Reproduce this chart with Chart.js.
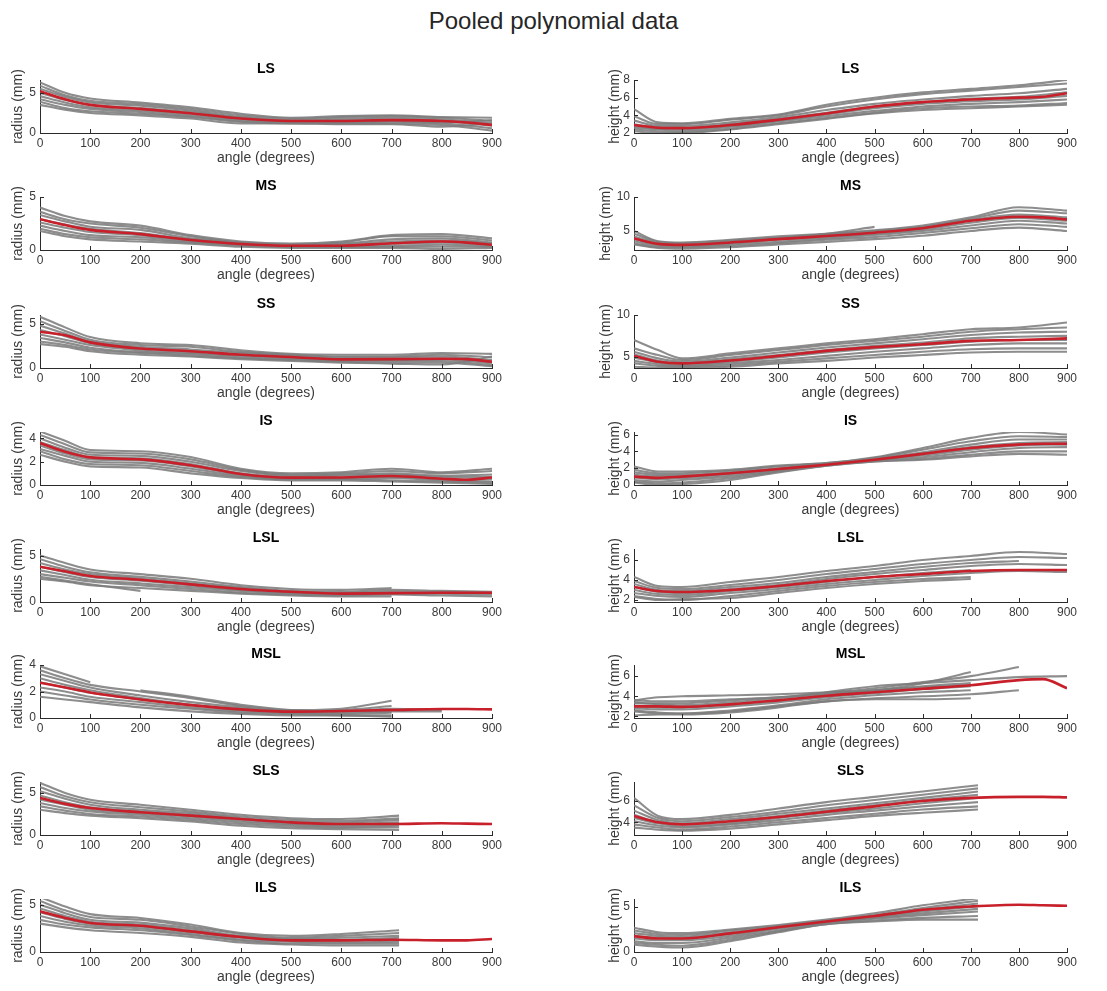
<!DOCTYPE html>
<html>
<head>
<meta charset="utf-8">
<script src="https://cdn.jsdelivr.net/npm/chart.js@4.4.1/dist/chart.umd.min.js"></script>
<style>
  html, body { margin: 0; padding: 0; background: #fff; width: 1107px; height: 991px; overflow: hidden; }
  #figTitle { position: absolute; left: 0; top: 7px; width: 1107px; text-align: center;
              font-family: "Liberation Sans", Arial, sans-serif; font-size: 24px; color: #262626; }
  canvas { position: absolute; }
</style>
</head>
<body>
<div id="figTitle">Pooled polynomial data</div>
<script>
// ---- shared sampling grids (degrees) ----
const angles = [0, 50, 100, 200, 300, 400, 500, 600, 700, 800, 900];
const meanAngles = [0, 50, 100, 200, 300, 400, 500, 600, 700, 800, 850, 900];
const anglesShort = [0, 50, 100, 200, 300, 400, 500, 600, 715];
const xTicks = [0, 100, 200, 300, 400, 500, 600, 700, 800, 900];

// ---- LS ----
const lsRadiusLimits = [0, 6.6];
const lsRadiusTicks = [0, 5];
const lsRadiusMean = [5.2, 4.2, 3.5, 3.0, 2.45, 1.8, 1.5, 1.5, 1.6, 1.5, 1.3, 1.0];
const lsRadiusCurves = [
  [6.3, 5.0, 4.3, 3.8, 3.2, 2.4, 1.9, 2.1, 2.2, 2.0, 1.9],
  [5.9, 4.7, 4.0, 3.6, 3.0, 2.2, 1.8, 2.0, 2.1, 1.9, 1.5],
  [5.5, 4.5, 3.8, 3.4, 2.8, 2.0, 1.6, 1.8, 1.9, 1.7, 1.2],
  [5.0, 4.1, 3.5, 3.1, 2.6, 1.9, 1.5, 1.6, 1.7, 1.5, 0.9],
  [4.6, 3.8, 3.2, 2.8, 2.3, 1.7, 1.4, 1.4, 1.5, 1.3, 1.6],
  [4.2, 3.5, 3.0, 2.6, 2.1, 1.5, 1.3, 1.3, 1.4, 1.2, 0.6],
  [3.9, 3.1, 2.7, 2.4, 2.0, 1.4, 1.2, 1.2, 1.2, 1.0, 0.3],
  [3.5, 2.9, 2.5, 2.2, 1.8, 1.2, 1.2, 1.1, 1.1, 0.8, 1.2]
];
const lsHeightLimits = [2, 8];
const lsHeightTicks = [2, 4, 6, 8];
const lsHeightMean = [2.9, 2.6, 2.55, 2.9, 3.5, 4.2, 5.0, 5.5, 5.8, 6.0, 6.1, 6.5];
const lsHeightCurves = [
  [4.7, 3.2, 3.1, 3.6, 4.1, 5.2, 6.0, 6.6, 7.0, 7.4, 8.0],
  [3.9, 3.0, 3.0, 3.5, 4.0, 5.0, 5.8, 6.4, 6.8, 7.2, 7.6],
  [3.4, 2.8, 2.8, 3.2, 3.8, 4.6, 5.3, 5.8, 6.2, 6.5, 7.0],
  [3.0, 2.6, 2.6, 3.0, 3.6, 4.3, 5.0, 5.5, 5.9, 6.1, 6.6],
  [2.8, 2.5, 2.5, 2.8, 3.4, 4.1, 4.8, 5.3, 5.6, 5.8, 6.2],
  [2.6, 2.4, 2.3, 2.7, 3.3, 3.9, 4.5, 5.0, 5.3, 5.5, 5.8],
  [2.4, 2.2, 2.1, 2.5, 3.1, 3.7, 4.3, 4.8, 5.0, 5.1, 5.4],
  [2.2, 2.0, 2.0, 2.4, 3.0, 3.6, 4.2, 4.6, 4.8, 5.0, 5.2]
];

// ---- MS ----
const msRadiusLimits = [0, 5];
const msRadiusTicks = [0, 5];
const msRadiusMean = [2.9, 2.35, 1.9, 1.5, 0.95, 0.57, 0.4, 0.4, 0.63, 0.8, 0.7, 0.5];
const msRadiusCurves = [
  [4.0, 3.2, 2.7, 2.3, 1.4, 0.8, 0.6, 0.8, 1.4, 1.5, 1.1],
  [3.6, 2.9, 2.5, 2.1, 1.3, 0.7, 0.5, 0.7, 1.3, 1.3, 0.9],
  [3.3, 2.7, 2.2, 1.9, 1.1, 0.7, 0.5, 0.6, 1.0, 1.1, 0.7],
  [2.9, 2.4, 2.0, 1.6, 1.0, 0.6, 0.4, 0.5, 0.8, 0.9, 0.6],
  [2.6, 2.1, 1.7, 1.4, 0.9, 0.5, 0.4, 0.4, 0.6, 0.7, 0.5],
  [2.3, 1.8, 1.4, 1.2, 0.8, 0.5, 0.3, 0.3, 0.4, 0.5, 0.4],
  [2.0, 1.5, 1.2, 1.0, 0.7, 0.4, 0.3, 0.3, 0.3, 0.3, 0.3],
  [1.8, 1.3, 1.0, 0.8, 0.6, 0.3, 0.2, 0.2, 0.2, 0.1, 0.2]
];
const msHeightLimits = [2.2, 10];
const msHeightTicks = [5, 10];
const msHeightMean = [3.9, 3.1, 2.95, 3.3, 3.8, 4.25, 4.75, 5.4, 6.5, 7.1, 7.0, 6.7];
const msHeightCurves = [
  [5.0, 3.5, 3.3, 3.7, 4.2, 4.6, 5.1, 5.8, 7.0, 8.5, 8.0],
  [4.6, 3.4, 3.2, 3.6, 4.0, 4.5, 5.0, 5.6, 6.8, 8.0, 7.6],
  [4.2, 3.2, 3.0, 3.4, 3.9, 4.3, 4.8, 5.5, 6.6, 7.4, 7.0],
  [3.8, 3.0, 2.9, 3.2, 3.7, 4.1, 4.6, 5.2, 6.2, 6.9, 6.5],
  [3.5, 2.8, 2.7, 3.0, 3.4, 3.9, 4.4, 5.0, 5.8, 6.5, 6.1],
  [3.2, 2.6, 2.6, 2.8, 3.2, 3.7, 4.1, 4.7, 5.4, 6.0, 5.6],
  [3.0, 2.5, 2.4, 2.6, 3.0, 3.4, 3.8, 4.3, 5.0, 5.5, 5.0],
  [null, null, null, 3.4, 3.9, 4.6, 5.6, null, null, null, null]
];

// ---- SS ----
const ssRadiusLimits = [0, 6.0];
const ssRadiusTicks = [0, 5];
const ssRadiusMean = [4.1, 3.7, 2.9, 2.2, 1.9, 1.5, 1.25, 0.98, 1.0, 1.05, 1.0, 0.7];
const ssRadiusCurves = [
  [5.8, 4.6, 3.5, 2.8, 2.6, 2.0, 1.6, 1.5, 1.5, 1.7, 1.6],
  [5.3, 4.2, 3.2, 2.6, 2.4, 1.8, 1.5, 1.3, 1.3, 1.5, 1.2],
  [4.8, 3.9, 3.0, 2.4, 2.1, 1.7, 1.4, 1.2, 1.2, 1.3, 0.9],
  [4.3, 3.6, 2.8, 2.2, 1.9, 1.5, 1.3, 1.0, 1.0, 1.1, 0.7],
  [3.8, 3.2, 2.6, 2.0, 1.7, 1.4, 1.1, 0.9, 0.9, 1.0, 0.5],
  [3.4, 2.9, 2.3, 1.8, 1.6, 1.2, 1.0, 0.8, 0.8, 0.8, 0.3],
  [3.0, 2.6, 2.1, 1.7, 1.4, 1.1, 0.9, 0.7, 0.6, 0.6, 0.2],
  [2.7, 2.4, 1.9, 1.5, 1.3, 1.0, 0.8, 0.6, 0.5, 0.4, 1.3]
];
const ssHeightLimits = [3.65, 10];
const ssHeightTicks = [5, 10];
const ssHeightMean = [5.1, 4.4, 4.2, 4.55, 5.1, 5.7, 6.15, 6.5, 6.9, 7.0, 7.1, 7.2];
const ssHeightCurves = [
  [7.0, 5.8, 4.8, 5.4, 6.0, 6.6, 7.1, 7.7, 8.3, 8.5, 9.1],
  [6.0, 5.2, 4.6, 5.2, 5.8, 6.4, 6.9, 7.4, 8.0, 8.3, 8.5],
  [5.6, 4.8, 4.4, 4.9, 5.5, 6.1, 6.6, 7.1, 7.6, 7.9, 8.0],
  [5.3, 4.5, 4.2, 4.7, 5.2, 5.8, 6.3, 6.7, 7.2, 7.4, 7.5],
  [4.9, 4.3, 4.0, 4.4, 4.9, 5.5, 6.0, 6.4, 6.8, 7.0, 7.0],
  [4.5, 4.1, 3.9, 4.2, 4.6, 5.1, 5.6, 6.0, 6.4, 6.6, 6.6],
  [4.2, 3.9, 3.8, 4.0, 4.4, 4.8, 5.2, 5.6, 5.9, 6.0, 6.0],
  [3.8, 3.7, 3.7, 3.8, 4.2, 4.5, 4.9, 5.2, 5.5, 5.6, 5.6]
];

// ---- IS ----
const isRadiusLimits = [0, 4.55];
const isRadiusTicks = [0, 2, 4];
const isRadiusMean = [3.6, 2.85, 2.37, 2.2, 1.7, 0.95, 0.63, 0.65, 0.77, 0.54, 0.45, 0.65];
const isRadiusCurves = [
  [4.6, 3.8, 3.0, 2.9, 2.4, 1.4, 1.0, 1.1, 1.4, 1.1, 1.4],
  [4.3, 3.5, 2.8, 2.7, 2.2, 1.3, 0.9, 1.0, 1.2, 1.0, 1.2],
  [4.0, 3.2, 2.6, 2.5, 2.0, 1.2, 0.8, 0.9, 1.0, 0.8, 0.9],
  [3.7, 3.0, 2.4, 2.3, 1.8, 1.0, 0.7, 0.8, 0.9, 0.7, 0.7],
  [3.4, 2.7, 2.2, 2.1, 1.6, 0.9, 0.6, 0.6, 0.7, 0.5, 0.5],
  [3.1, 2.5, 2.0, 1.9, 1.4, 0.8, 0.5, 0.5, 0.6, 0.4, 0.3],
  [2.9, 2.2, 1.8, 1.7, 1.2, 0.7, 0.5, 0.5, 0.4, 0.3, 0.2],
  [2.6, 2.0, 1.6, 1.5, 1.0, 0.6, 0.4, 0.4, 0.3, 0.2, 0.1]
];
const isHeightLimits = [0, 6.3];
const isHeightTicks = [0, 2, 4, 6];
const isHeightMean = [1.0, 0.85, 1.0, 1.4, 1.9, 2.4, 3.0, 3.7, 4.4, 4.8, 4.9, 4.9];
const isHeightCurves = [
  [2.2, 1.6, 1.6, 1.8, 2.3, 2.6, 3.3, 4.4, 5.6, 6.3, 6.0],
  [1.8, 1.4, 1.4, 1.7, 2.2, 2.6, 3.2, 4.2, 5.2, 5.8, 5.7],
  [1.5, 1.2, 1.2, 1.5, 2.0, 2.5, 3.1, 3.9, 4.8, 5.4, 5.4],
  [1.2, 1.0, 1.0, 1.4, 1.9, 2.5, 3.0, 3.7, 4.5, 5.0, 5.1],
  [0.9, 0.7, 0.8, 1.2, 1.8, 2.4, 3.0, 3.5, 4.2, 4.7, 4.8],
  [0.6, 0.4, 0.6, 1.0, 1.7, 2.4, 2.9, 3.3, 3.9, 4.4, 4.5],
  [0.4, 0.2, 0.3, 0.8, 1.6, 2.3, 2.8, 3.1, 3.6, 4.0, 4.0],
  [0.3, 0.0, 0.1, 0.6, 1.5, 2.3, 2.8, 3.0, 3.4, 3.7, 3.6]
];

// ---- LSL ----
const lslRadiusLimits = [0, 5.7];
const lslRadiusTicks = [0, 5];
const lslRadiusMean = [3.8, 3.3, 2.8, 2.4, 1.9, 1.4, 1.1, 0.9, 0.95, 1.0, 1.0, 1.0];
const lslRadiusCurves = [
  [5.0, 4.2, 3.5, 3.0, 2.5, 1.8, 1.4, 1.3, 1.5, null, null],
  [4.6, 3.8, 3.2, 2.7, 2.2, 1.6, 1.2, 1.1, 1.3, 1.2, 1.1],
  [4.2, 3.5, 3.0, 2.5, 2.0, 1.5, 1.1, 1.0, 1.1, 1.1, 1.0],
  [3.8, 3.2, 2.7, 2.3, 1.8, 1.3, 1.0, 0.9, 1.0, null, null],
  [3.4, 2.9, 2.4, 2.0, 1.6, 1.2, 0.9, 0.8, 0.9, 0.9, 0.8],
  [3.0, 2.6, 2.2, 1.8, 1.4, 1.0, 0.8, 0.7, 0.8, 0.7, 0.6],
  [2.7, 2.3, 1.9, 1.2, null, null, null, null, null, null, null],
  [2.5, 2.2, 1.8, 1.5, 1.2, 0.9, 0.7, 0.6, 0.6, null, null]
];
const lslHeightLimits = [1.8, 7.1];
const lslHeightTicks = [2, 4, 6];
const lslHeightMean = [3.3, 2.9, 2.8, 3.0, 3.4, 3.9, 4.3, 4.6, 4.9, 5.0, 5.0, 5.0];
const lslHeightCurves = [
  [4.3, 3.4, 3.3, 3.8, 4.3, 4.9, 5.4, 6.0, 6.4, 6.8, 6.6],
  [3.9, 3.2, 3.1, 3.5, 4.0, 4.6, 5.1, 5.6, 6.0, 6.3, 6.2],
  [3.6, 3.0, 2.9, 3.3, 3.7, 4.3, 4.8, 5.3, 5.7, 5.9, null],
  [3.3, 2.8, 2.7, 3.1, 3.5, 4.1, 4.6, 5.0, 5.4, 5.6, 5.5],
  [3.0, 2.6, 2.5, 2.9, 3.3, 3.8, 4.3, 4.7, 5.0, null, null],
  [2.7, 2.4, 2.3, 2.7, 3.1, 3.6, 4.0, 4.4, 4.7, 4.9, 4.8],
  [2.4, 2.1, 2.0, 2.4, 2.9, 3.4, 3.8, 4.1, 4.3, null, null],
  [2.3, 2.0, 2.1, 2.2, 2.7, 3.2, 3.6, 3.9, 4.1, null, null]
];

// ---- MSL ----
const mslRadiusLimits = [0, 4];
const mslRadiusTicks = [0, 2, 4];
const mslRadiusMean = [2.66, 2.3, 1.93, 1.4, 0.97, 0.65, 0.48, 0.53, 0.6, 0.68, 0.68, 0.65];
const mslRadiusCurves = [
  [3.9, 3.3, 2.7, null, null, null, null, null, null, null, null],
  [3.6, 3.0, 2.5, 2.0, 1.5, 0.9, 0.6, 0.7, 1.3, null, null],
  [3.3, 2.8, 2.3, 1.7, 1.2, 0.8, 0.5, 0.6, 0.9, null, null],
  [3.0, 2.5, 2.1, 1.5, 1.0, 0.7, 0.5, 0.5, 0.7, 0.6, null],
  [2.7, 2.3, 1.9, 1.4, 1.0, 0.6, 0.4, 0.4, 0.5, 0.5, null],
  [2.3, 2.0, 1.6, 1.2, 0.8, 0.5, 0.4, 0.3, 0.4, null, null],
  [2.0, 1.7, 1.4, 1.0, 0.7, 0.4, 0.3, 0.2, 0.1, null, null],
  [1.6, 1.4, 1.2, 0.8, 0.5, 0.3, 0.2, 0.2, 0.2, null, null],
  [null, null, null, 2.1, 1.6, 1.0, 0.6, 0.5, 0.5, null, null]
];
const mslHeightLimits = [1.85, 7.1];
const mslHeightTicks = [2, 4, 6];
const mslHeightMean = [3.0, 3.0, 2.95, 3.2, 3.6, 4.05, 4.4, 4.75, 5.1, 5.6, 5.7, 4.8];
const mslHeightCurves = [
  [3.6, 3.5, 3.5, 3.7, 3.9, 4.2, 4.6, 5.3, 6.4, null, null],
  [3.3, 3.3, 3.3, 3.6, 3.9, 4.3, 4.8, 5.4, 6.0, 6.9, null],
  [3.4, 3.2, 3.1, 3.4, 3.8, 4.4, 5.0, 5.3, 5.6, 5.9, 6.0],
  [3.0, 2.9, 2.9, 3.2, 3.6, 4.1, 4.6, 5.0, 5.3, null, null],
  [2.8, 2.7, 2.7, 3.0, 3.4, 3.9, 4.3, 4.7, 5.0, null, null],
  [2.5, 2.3, 2.3, 2.6, 3.1, 3.7, 4.1, 4.4, 4.6, null, null],
  [2.1, 2.2, 2.2, 2.4, 2.9, 3.5, 3.8, 4.0, 4.2, 4.6, null],
  [2.6, 2.4, 2.3, 2.5, 3.0, 3.5, 3.7, 3.7, 3.8, null, null],
  [3.6, 3.9, 4.0, 4.1, 4.2, 4.4, 4.6, 4.9, 5.1, null, null]
];

// ---- SLS ----
const slsRadiusLimits = [0, 6.3];
const slsRadiusTicks = [0, 5];
const slsRadiusMean = [4.4, 3.7, 3.2, 2.7, 2.3, 1.9, 1.5, 1.3, 1.3, 1.4, 1.35, 1.3];
const slsRadiusCurves = [
  [6.2, 5.0, 4.2, 3.6, 3.0, 2.4, 2.0, 1.9, 2.3],
  [5.7, 4.6, 3.9, 3.3, 2.8, 2.2, 1.8, 1.7, 2.0],
  [5.2, 4.3, 3.6, 3.0, 2.6, 2.0, 1.6, 1.5, 1.8],
  [4.7, 3.9, 3.3, 2.8, 2.4, 1.9, 1.5, 1.3, 1.5],
  [4.2, 3.6, 3.0, 2.6, 2.2, 1.7, 1.3, 1.2, 1.3],
  [3.8, 3.2, 2.8, 2.4, 2.0, 1.5, 1.2, 1.0, 1.1],
  [3.4, 2.9, 2.5, 2.2, 1.8, 1.3, 1.0, 0.9, 0.9],
  [3.0, 2.6, 2.3, 2.0, 1.6, 1.1, 0.8, 0.7, 0.6]
];
const slsHeightLimits = [2.8, 7.8];
const slsHeightTicks = [4, 6];
const slsHeightMean = [4.6, 4.0, 3.8, 4.1, 4.5, 5.0, 5.5, 6.0, 6.3, 6.4, 6.4, 6.35];
const slsHeightCurves = [
  [6.3, 4.6, 4.3, 4.7, 5.3, 5.9, 6.4, 6.9, 7.5],
  [5.6, 4.4, 4.1, 4.5, 5.0, 5.6, 6.1, 6.6, 7.2],
  [5.1, 4.2, 3.9, 4.3, 4.8, 5.3, 5.8, 6.3, 6.9],
  [4.7, 4.0, 3.8, 4.1, 4.6, 5.1, 5.6, 6.1, 6.6],
  [4.4, 3.9, 3.6, 3.9, 4.4, 4.9, 5.3, 5.8, 6.3],
  [4.1, 3.7, 3.5, 3.8, 4.2, 4.7, 5.1, 5.5, 5.9],
  [3.8, 3.5, 3.3, 3.6, 4.0, 4.4, 4.8, 5.2, 5.5],
  [3.5, 3.3, 3.2, 3.4, 3.8, 4.2, 4.6, 4.9, 5.2]
];

// ---- ILS ----
const ilsRadiusLimits = [0, 5.6];
const ilsRadiusTicks = [0, 5];
const ilsRadiusMean = [4.3, 3.6, 3.07, 2.78, 2.18, 1.58, 1.23, 1.23, 1.3, 1.23, 1.23, 1.37];
const ilsRadiusCurves = [
  [5.8, 4.8, 4.0, 3.6, 2.9, 2.0, 1.7, 1.9, 2.3],
  [5.4, 4.4, 3.7, 3.4, 2.7, 1.9, 1.5, 1.7, 2.0],
  [5.0, 4.1, 3.4, 3.1, 2.5, 1.7, 1.4, 1.5, 1.7],
  [4.6, 3.8, 3.2, 2.9, 2.3, 1.6, 1.3, 1.3, 1.5],
  [4.2, 3.5, 3.0, 2.7, 2.1, 1.5, 1.2, 1.2, 1.3],
  [3.8, 3.2, 2.8, 2.5, 1.9, 1.3, 1.1, 1.0, 1.1],
  [3.4, 2.9, 2.6, 2.3, 1.8, 1.2, 0.9, 0.9, 0.9],
  [3.0, 2.6, 2.3, 2.0, 1.6, 1.0, 0.8, 0.7, 0.7]
];
const ilsHeightLimits = [0, 5.9];
const ilsHeightTicks = [0, 5];
const ilsHeightMean = [1.77, 1.5, 1.5, 2.07, 2.75, 3.4, 4.0, 4.7, 5.07, 5.26, 5.2, 5.15];
const ilsHeightCurves = [
  [2.7, 2.2, 2.1, 2.5, 3.0, 3.6, 4.3, 5.2, 6.0],
  [2.4, 2.0, 1.9, 2.4, 2.9, 3.5, 4.1, 4.9, 5.7],
  [2.1, 1.8, 1.7, 2.2, 2.8, 3.4, 4.0, 4.7, 5.4],
  [1.8, 1.6, 1.5, 2.0, 2.7, 3.4, 3.9, 4.5, 5.1],
  [1.5, 1.3, 1.3, 1.8, 2.6, 3.3, 3.8, 4.3, 4.8],
  [1.2, 1.0, 1.0, 1.6, 2.4, 3.2, 3.7, 4.1, 4.5],
  [1.0, 0.8, 0.7, 1.4, 2.3, 3.1, 3.5, 3.8, 4.0],
  [0.8, 0.6, 0.5, 1.2, 2.2, 3.1, 3.4, 3.6, 3.6]
];

// ---- panel grid: one row per group, radius on the left, height on the right ----
const panels = [
  { title: 'LS',  yLabel: 'radius (mm)', row: 0, col: 0, limits: lsRadiusLimits,  ticks: lsRadiusTicks,  mean: lsRadiusMean,  curves: lsRadiusCurves,  curveAngles: angles },
  { title: 'LS',  yLabel: 'height (mm)', row: 0, col: 1, limits: lsHeightLimits,  ticks: lsHeightTicks,  mean: lsHeightMean,  curves: lsHeightCurves,  curveAngles: angles },
  { title: 'MS',  yLabel: 'radius (mm)', row: 1, col: 0, limits: msRadiusLimits,  ticks: msRadiusTicks,  mean: msRadiusMean,  curves: msRadiusCurves,  curveAngles: angles },
  { title: 'MS',  yLabel: 'height (mm)', row: 1, col: 1, limits: msHeightLimits,  ticks: msHeightTicks,  mean: msHeightMean,  curves: msHeightCurves,  curveAngles: angles },
  { title: 'SS',  yLabel: 'radius (mm)', row: 2, col: 0, limits: ssRadiusLimits,  ticks: ssRadiusTicks,  mean: ssRadiusMean,  curves: ssRadiusCurves,  curveAngles: angles },
  { title: 'SS',  yLabel: 'height (mm)', row: 2, col: 1, limits: ssHeightLimits,  ticks: ssHeightTicks,  mean: ssHeightMean,  curves: ssHeightCurves,  curveAngles: angles },
  { title: 'IS',  yLabel: 'radius (mm)', row: 3, col: 0, limits: isRadiusLimits,  ticks: isRadiusTicks,  mean: isRadiusMean,  curves: isRadiusCurves,  curveAngles: angles },
  { title: 'IS',  yLabel: 'height (mm)', row: 3, col: 1, limits: isHeightLimits,  ticks: isHeightTicks,  mean: isHeightMean,  curves: isHeightCurves,  curveAngles: angles },
  { title: 'LSL', yLabel: 'radius (mm)', row: 4, col: 0, limits: lslRadiusLimits, ticks: lslRadiusTicks, mean: lslRadiusMean, curves: lslRadiusCurves, curveAngles: angles },
  { title: 'LSL', yLabel: 'height (mm)', row: 4, col: 1, limits: lslHeightLimits, ticks: lslHeightTicks, mean: lslHeightMean, curves: lslHeightCurves, curveAngles: angles },
  { title: 'MSL', yLabel: 'radius (mm)', row: 5, col: 0, limits: mslRadiusLimits, ticks: mslRadiusTicks, mean: mslRadiusMean, curves: mslRadiusCurves, curveAngles: angles },
  { title: 'MSL', yLabel: 'height (mm)', row: 5, col: 1, limits: mslHeightLimits, ticks: mslHeightTicks, mean: mslHeightMean, curves: mslHeightCurves, curveAngles: angles },
  { title: 'SLS', yLabel: 'radius (mm)', row: 6, col: 0, limits: slsRadiusLimits, ticks: slsRadiusTicks, mean: slsRadiusMean, curves: slsRadiusCurves, curveAngles: anglesShort },
  { title: 'SLS', yLabel: 'height (mm)', row: 6, col: 1, limits: slsHeightLimits, ticks: slsHeightTicks, mean: slsHeightMean, curves: slsHeightCurves, curveAngles: anglesShort },
  { title: 'ILS', yLabel: 'radius (mm)', row: 7, col: 0, limits: ilsRadiusLimits, ticks: ilsRadiusTicks, mean: ilsRadiusMean, curves: ilsRadiusCurves, curveAngles: anglesShort },
  { title: 'ILS', yLabel: 'height (mm)', row: 7, col: 1, limits: ilsHeightLimits, ticks: ilsHeightTicks, mean: ilsHeightMean, curves: ilsHeightCurves, curveAngles: anglesShort }
];

// ---- page layout of the plot boxes ----
const colLeft = [40, 634];
const colRight = [492, 1067];
const rowBottom = [133, 250, 368, 485, 602, 718, 835, 952];
const plotHeight = 53;
const yAxisWidth = 40;
const titleSpace = 22;
const xAxisHeight = 38;
const rightPad = 30;

const FONT = '"Liberation Sans", Arial, Helvetica, sans-serif';
const AXIS_COLOR = '#2b2b2b';
const LABEL_COLOR = '#3a3a3a';
const CURVE_COLOR = 'rgba(125,125,125,0.88)';
const MEAN_COLOR = '#c8202a';

// small inward tick marks on the left and bottom axes
const inwardTicks = {
  id: 'inwardTicks',
  afterDatasetsDraw(chart) {
    const { ctx, chartArea: a, scales: { x, y } } = chart;
    ctx.save();
    ctx.strokeStyle = AXIS_COLOR;
    ctx.lineWidth = 1;
    ctx.beginPath();
    x.ticks.forEach(t => {
      const px = Math.round(x.getPixelForValue(t.value)) + 0.5;
      ctx.moveTo(px, a.bottom);
      ctx.lineTo(px, a.bottom - 4);
    });
    y.ticks.forEach(t => {
      const py = Math.round(y.getPixelForValue(t.value)) + 0.5;
      ctx.moveTo(a.left, py);
      ctx.lineTo(a.left + 4, py);
    });
    ctx.stroke();
    ctx.restore();
  }
};

// bold panel title centred over the plot box
const panelTitle = {
  id: 'panelTitle',
  afterDraw(chart, args, opts) {
    const { ctx, chartArea: a } = chart;
    ctx.save();
    ctx.font = 'bold 14px ' + FONT;
    ctx.fillStyle = '#000';
    ctx.textAlign = 'center';
    ctx.textBaseline = 'middle';
    ctx.fillText(opts.text, (a.left + a.right) / 2, a.top - 11);
    ctx.restore();
  }
};

function toPoints(xs, ys) {
  const pts = [];
  ys.forEach((v, i) => { if (v !== null) pts.push({ x: xs[i], y: v }); });
  return pts;
}

panels.forEach(p => {
  const plotW = colRight[p.col] - colLeft[p.col];
  const canvas = document.createElement('canvas');
  canvas.width = yAxisWidth + plotW + rightPad;
  canvas.height = titleSpace + plotHeight + xAxisHeight;
  canvas.style.left = (colLeft[p.col] - yAxisWidth) + 'px';
  canvas.style.top = (rowBottom[p.row] - plotHeight - titleSpace) + 'px';
  document.body.appendChild(canvas);

  // the axis label sits further out when the tick labels have two digits
  const wideTicks = Math.max(...p.ticks) >= 10;
  const yLabelPad = wideTicks ? 4 : (p.col === 0 ? 10 : 13);

  const datasets = [{
    data: toPoints(meanAngles, p.mean),
    borderColor: MEAN_COLOR,
    borderWidth: 2.6,
    pointRadius: 0,
    cubicInterpolationMode: 'monotone'
  }];
  p.curves.forEach(c => datasets.push({
    data: toPoints(p.curveAngles, c),
    borderColor: CURVE_COLOR,
    borderWidth: 2.1,
    pointRadius: 0,
    cubicInterpolationMode: 'monotone'
  }));

  new Chart(canvas, {
    type: 'line',
    data: { datasets },
    options: {
      responsive: false,
      animation: false,
      events: [],
      layout: { padding: { top: titleSpace, right: rightPad, bottom: 0, left: 0 } },
      plugins: { legend: { display: false }, tooltip: { enabled: false }, title: { display: false },
                 panelTitle: { text: p.title } },
      scales: {
        x: {
          type: 'linear', min: 0, max: 900,
          afterBuildTicks: s => { s.ticks = xTicks.map(v => ({ value: v })); },
          afterFit: s => { s.height = xAxisHeight; },
          ticks: { autoSkip: false, maxRotation: 0, padding: 3, color: LABEL_COLOR, font: { family: FONT, size: 12 } },
          grid: { drawOnChartArea: false, drawTicks: false },
          border: { display: true, color: AXIS_COLOR, width: 1 },
          title: { display: true, text: 'angle (degrees)', color: LABEL_COLOR,
                   font: { family: FONT, size: 14 }, padding: { top: 0, bottom: 4 } }
        },
        y: {
          type: 'linear', min: p.limits[0], max: p.limits[1],
          afterBuildTicks: s => { s.ticks = p.ticks.map(v => ({ value: v })); },
          afterFit: s => { s.width = yAxisWidth; },
          ticks: { padding: 4, color: LABEL_COLOR, font: { family: FONT, size: 12 } },
          grid: { drawOnChartArea: false, drawTicks: false },
          border: { display: true, color: AXIS_COLOR, width: 1 },
          title: { display: true, text: p.yLabel, color: LABEL_COLOR,
                   font: { family: FONT, size: 14 }, padding: { top: yLabelPad, bottom: 0 } }
        }
      }
    },
    plugins: [inwardTicks, panelTitle]
  });
});
</script>
</body>
</html>
